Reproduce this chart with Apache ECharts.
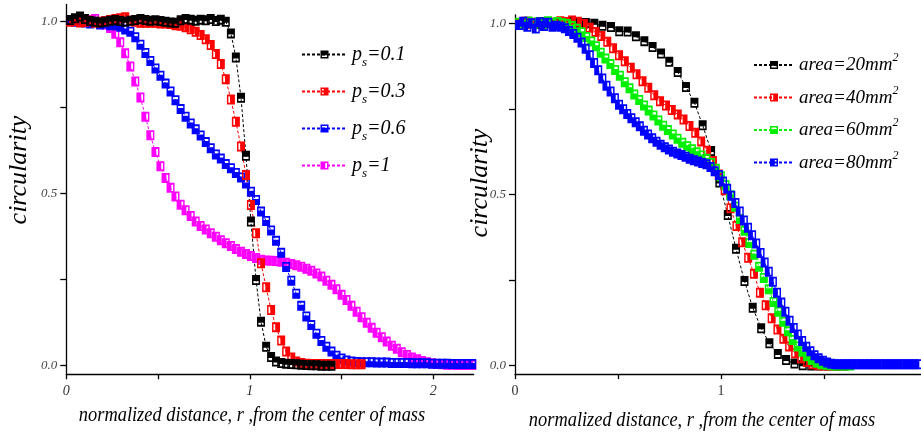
<!DOCTYPE html>
<html>
<head>
<meta charset="utf-8">
<script src="https://cdn.jsdelivr.net/npm/echarts@6/dist/echarts.min.js"></script>
<style>
html,body{margin:0;padding:0;background:#fff;}
#chart{width:921px;height:432px;}
</style>
</head>
<body>
<div id="chart"></div>
<script>
// ---- left panel: circularity profiles for several seeding probabilities p_s ----
const rLeft = [
  0.020,0.047,0.075,0.102,0.130,0.157,0.184,0.212,0.239,0.267,
  0.294,0.321,0.349,0.376,0.404,0.431,0.458,0.486,0.513,0.541,
  0.568,0.595,0.623,0.650,0.678,0.705,0.732,0.760,0.787,0.815,
  0.842,0.869,0.897,0.924,0.952,0.979,1.006,1.034,1.061,1.089,
  1.116,1.143,1.171,1.198,1.226,1.253,1.280,1.308,1.335,1.363,
  1.390,1.417,1.445,1.472,1.500,1.527,1.554,1.582,1.609,1.637,
  1.664,1.691,1.719,1.746,1.774,1.801,1.828,1.856,1.883,1.911,
  1.938,1.965,1.993,2.020,2.048,2.075,2.102,2.130,2.157,2.185,
  2.212
];
const circPs01 = [
  1.005,1.010,1.015,1.008,1.002,1.000,0.998,1.000,1.003,1.005,
  1.002,1.000,1.003,1.005,1.008,1.005,1.003,1.004,1.002,1.000,
  0.998,0.997,1.004,1.008,1.006,1.003,1.006,1.004,1.008,1.002,
  1.006,1.000,0.966,0.896,0.779,0.610,0.419,0.249,0.128,0.055,
  0.025,0.012,0.008,0.006,0.005,0.004,0.003,0.002,0.001,0.001,
  0.000,0.000,0.000
];
const circPs03 = [
  1.000,1.002,0.998,1.000,1.003,0.997,1.000,1.002,1.005,1.008,
  1.010,1.013,1.003,1.000,0.997,0.997,0.997,0.997,0.995,0.995,
  0.993,0.990,0.988,0.984,0.978,0.971,0.961,0.949,0.932,0.906,
  0.877,0.833,0.774,0.709,0.637,0.554,0.467,0.385,0.298,0.228,
  0.162,0.112,0.073,0.041,0.024,0.012,0.008,0.006,0.005,0.005,
  0.005,0.005,0.005,0.005,0.005,0.005,0.004,0.004,0.004
];
const circPs06 = [
  1.005,1.000,1.003,0.998,0.995,1.000,0.992,0.995,0.990,0.990,
  0.985,0.977,0.971,0.955,0.933,0.909,0.886,0.864,0.843,0.820,
  0.797,0.772,0.746,0.724,0.704,0.687,0.669,0.650,0.632,0.614,
  0.602,0.586,0.574,0.560,0.547,0.530,0.506,0.482,0.448,0.421,
  0.393,0.363,0.328,0.287,0.247,0.209,0.174,0.143,0.118,0.093,
  0.072,0.055,0.041,0.029,0.021,0.015,0.012,0.011,0.010,0.010,
  0.010,0.009,0.009,0.009,0.008,0.008,0.008,0.008,0.007,0.007,
  0.007,0.007,0.006,0.006,0.006,0.006,0.005,0.005,0.005,0.005,
  0.005
];
const circPs1 = [
  1.005,1.003,1.007,1.000,1.005,1.008,0.998,0.992,0.982,0.965,
  0.940,0.908,0.870,0.826,0.780,0.724,0.670,0.621,0.580,0.546,
  0.517,0.492,0.468,0.452,0.435,0.419,0.406,0.396,0.385,0.375,
  0.365,0.356,0.348,0.339,0.331,0.325,0.319,0.313,0.308,0.306,
  0.305,0.304,0.302,0.299,0.296,0.292,0.288,0.282,0.276,0.268,
  0.259,0.247,0.235,0.222,0.206,0.191,0.174,0.157,0.141,0.125,
  0.110,0.096,0.083,0.070,0.058,0.049,0.039,0.031,0.024,0.019,
  0.014,0.010,0.007,0.005,0.004,0.003,0.003,0.002,0.002,0.002,
  0.002
];

// ---- right panel: circularity profiles for several colony areas ----
const rArea20 = [
  0.020,0.061,0.101,0.142,0.182,0.223,0.263,0.304,0.344,0.385,
  0.425,0.466,0.506,0.547,0.587,0.628,0.668,0.709,0.749,0.790,
  0.830,0.871,0.911,0.952,0.992,1.033,1.073,1.114,1.154,1.195,
  1.235,1.276,1.316,1.357,1.397,1.438,1.478,1.519,1.559,1.600
];
const circArea20 = [
  1.000,1.005,0.998,1.003,1.000,1.002,1.004,1.002,1.001,0.999,
  0.993,0.989,0.977,0.976,0.962,0.948,0.931,0.912,0.888,0.858,
  0.814,0.768,0.702,0.627,0.535,0.440,0.341,0.247,0.169,0.109,
  0.065,0.034,0.016,0.006,0.001,0.000,0.000,0.000,0.000,0.000
];
const rArea40 = [
  0.020,0.049,0.077,0.106,0.134,0.163,0.191,0.220,0.248,0.277,
  0.305,0.334,0.362,0.391,0.419,0.448,0.476,0.505,0.533,0.562,
  0.590,0.619,0.647,0.676,0.704,0.733,0.761,0.790,0.818,0.847,
  0.875,0.904,0.932,0.961,0.989,1.018,1.046,1.075,1.103,1.132,
  1.160,1.189,1.217,1.246,1.274,1.303,1.331,1.360,1.388,1.417,
  1.445,1.474,1.502,1.531,1.559,1.588
];
const circArea40 = [
  1.000,1.005,0.998,1.002,0.996,1.003,1.000,1.006,1.004,1.008,
  1.005,0.998,0.987,0.975,0.963,0.946,0.927,0.907,0.889,0.870,
  0.851,0.831,0.812,0.790,0.772,0.760,0.747,0.734,0.719,0.700,
  0.680,0.655,0.628,0.598,0.558,0.512,0.460,0.408,0.360,0.315,
  0.268,0.213,0.176,0.138,0.105,0.078,0.056,0.036,0.021,0.010,
  0.004,0.001,0.000,0.000,0.000,0.000
];
const rArea60 = [
  0.020,0.043,0.067,0.090,0.113,0.137,0.160,0.183,0.206,0.230,
  0.253,0.276,0.300,0.323,0.346,0.370,0.393,0.416,0.439,0.463,
  0.486,0.509,0.533,0.556,0.579,0.603,0.626,0.649,0.672,0.696,
  0.719,0.742,0.766,0.789,0.812,0.836,0.859,0.882,0.905,0.929,
  0.952,0.975,0.999,1.022,1.045,1.069,1.092,1.115,1.138,1.162,
  1.185,1.208,1.232,1.255,1.278,1.302,1.325,1.348,1.372,1.395,
  1.418,1.441,1.465,1.488,1.511,1.535,1.558,1.581,1.605,1.628
];
const circArea60 = [
  1.002,0.995,1.005,0.998,1.003,0.995,1.006,1.000,1.004,1.000,
  0.998,0.992,0.984,0.974,0.960,0.947,0.933,0.914,0.897,0.881,
  0.864,0.847,0.828,0.810,0.792,0.776,0.760,0.745,0.731,0.716,
  0.701,0.688,0.675,0.663,0.651,0.641,0.632,0.623,0.614,0.604,
  0.592,0.575,0.553,0.527,0.498,0.464,0.428,0.394,0.358,0.324,
  0.289,0.256,0.223,0.186,0.157,0.128,0.100,0.075,0.056,0.040,
  0.027,0.016,0.008,0.004,0.002,0.001,0.000,0.000,0.000,0.000
];
const rArea80 = [
  0.020,0.040,0.060,0.081,0.101,0.121,0.141,0.161,0.182,0.202,
  0.222,0.242,0.262,0.283,0.303,0.323,0.343,0.363,0.384,0.404,
  0.424,0.444,0.464,0.485,0.505,0.525,0.545,0.565,0.586,0.606,
  0.626,0.646,0.666,0.687,0.707,0.727,0.747,0.767,0.788,0.808,
  0.828,0.848,0.868,0.889,0.909,0.929,0.949,0.969,0.990,1.010,
  1.030,1.050,1.070,1.091,1.111,1.131,1.151,1.171,1.192,1.212,
  1.232,1.252,1.272,1.293,1.313,1.333,1.353,1.373,1.394,1.414,
  1.434,1.454,1.474,1.495,1.515,1.535,1.555,1.575,1.596,1.616,
  1.636,1.656,1.676,1.697,1.717,1.737,1.757,1.777,1.798,1.818,
  1.838,1.858,1.878,1.899,1.919,1.939,1.959
];
const circArea80 = [
  0.995,1.005,0.990,1.000,0.985,1.003,0.992,1.002,0.990,0.993,
  0.990,0.986,0.978,0.969,0.958,0.944,0.926,0.907,0.884,0.863,
  0.839,0.818,0.801,0.781,0.762,0.749,0.735,0.723,0.711,0.699,
  0.686,0.675,0.664,0.654,0.645,0.638,0.631,0.625,0.620,0.615,
  0.610,0.604,0.600,0.596,0.592,0.588,0.580,0.568,0.557,0.538,
  0.517,0.496,0.475,0.450,0.424,0.403,0.381,0.357,0.329,0.301,
  0.274,0.245,0.213,0.184,0.157,0.131,0.110,0.091,0.072,0.055,
  0.042,0.030,0.021,0.014,0.009,0.005,0.004,0.004,0.004,0.004,
  0.004,0.004,0.004,0.004,0.004,0.004,0.004,0.004,0.004,0.004,
  0.004,0.004,0.004,0.004,0.004,0.004,0.004
];

// axis tick / label positions
const yTicks = [0, 0.25, 0.5, 0.75, 1];
const yLabels = [0, 0.5, 1];
const xTicksLeft = [0, 0.5, 1, 1.5, 2];
const xLabelsLeft = [0, 1, 2];
const xTicksRight = [0, 0.5, 1, 1.5];
const xLabelsRight = [0, 1];

const legendLeft = ['ps=0.1', 'ps=0.3', 'ps=0.6', 'ps=1'];
const legendRight = ['area=20mm2', 'area=40mm2', 'area=60mm2', 'area=80mm2'];

const SERIF = '"Liberation Serif", "Times New Roman", serif';
const X_TITLE = 'normalized distance, r ,from the center of mass';

// square markers: outer ring with most of the inside filled, leaving a white slit
const RING = 'M0 0 L10 0 L10 10 L0 10 Z M1.8 1.8 L1.8 8.2 L8.2 8.2 L8.2 1.8 Z';
const FILL = {
  top:    ' M1.8 1.8 L8.2 1.8 L8.2 6 L1.8 6 Z',
  bottom: ' M1.8 4 L8.2 4 L8.2 8.2 L1.8 8.2 Z',
  left:   ' M1.8 1.8 L6 1.8 L6 8.2 L1.8 8.2 Z',
  right:  ' M4 1.8 L8.2 1.8 L8.2 8.2 L4 8.2 Z'
};
const marker = side => 'path://' + RING + FILL[side];

const pair = (r, c) => c.map((v, i) => [r[i], v]);

function curve(name, r, c, color, side, idx) {
  return {
    name: name, type: 'line', xAxisIndex: idx, yAxisIndex: idx,
    data: pair(r, c),
    symbol: marker(side), symbolSize: [8, 10],
    color: color,
    lineStyle: { color: color, width: 1, type: [3, 2] },
    itemStyle: { color: color, borderWidth: 0 },
    emphasis: { disabled: true },
    animation: false
  };
}

function xAxisOf(idx, max, ticks, labels, italic) {
  return {
    gridIndex: idx, type: 'value', min: 0, max: max,
    axisLine: { onZero: false, lineStyle: { color: '#000', width: 1.3 } },
    axisTick: { customValues: ticks, length: 5, lineStyle: { color: '#000', width: 1.3 } },
    axisLabel: {
      customValues: labels, margin: 10, color: '#333',
      fontFamily: SERIF, fontSize: 14, fontStyle: italic ? 'italic' : 'normal',
      formatter: v => String(Math.round(v))
    },
    splitLine: { show: false }
  };
}
function yAxisOf(idx, max) {
  return {
    gridIndex: idx, type: 'value', min: -0.025, max: max,
    axisLine: { show: true, onZero: false, lineStyle: { color: '#000', width: 1.3 } },
    axisTick: { show: true, customValues: yTicks, length: 6, lineStyle: { color: '#000', width: 1.3 } },
    axisLabel: {
      customValues: yLabels, margin: 9, color: '#444',
      fontFamily: SERIF, fontSize: 13, fontStyle: 'italic',
      formatter: v => v.toFixed(1)
    },
    splitLine: { show: false }
  };
}

const richLeft = {
  m: { fontFamily: SERIF, fontStyle: 'italic', fontSize: 20, color: '#000', lineHeight: 26 },
  s: { fontFamily: SERIF, fontStyle: 'italic', fontSize: 13, color: '#000', lineHeight: 13, padding: [16, 0, 0, 0] }
};
const richRight = {
  m: { fontFamily: SERIF, fontStyle: 'italic', fontSize: 19, color: '#000', lineHeight: 26 },
  u: { fontFamily: SERIF, fontStyle: 'italic', fontSize: 12, color: '#000', lineHeight: 12, padding: [0, 0, 14, 0] }
};

const option = {
  backgroundColor: '#fff',
  animation: false,
  grid: [
    { left: 66.3, top: 4.5, width: 407.4, height: 369.8 },
    { left: 515, top: 14.8, width: 405.8, height: 359.3 }
  ],
  xAxis: [
    xAxisOf(0, 2.22, xTicksLeft, xLabelsLeft, true),
    xAxisOf(1, 1.97, xTicksRight, xLabelsRight, false)
  ],
  yAxis: [yAxisOf(0, 1.05), yAxisOf(1, 1.025)],
  legend: [
    {
      data: legendLeft, orient: 'vertical', left: 301, top: 40, padding: 0,
      itemWidth: 45, itemHeight: 10, itemGap: 8, selectedMode: false,
      formatter: n => '{m|p}{s|s}{m|' + n.slice(2) + '}',
      textStyle: { rich: richLeft }
    },
    {
      data: legendRight, orient: 'vertical', left: 753, top: 52, padding: 0,
      itemWidth: 40, itemHeight: 10, itemGap: 6.5, selectedMode: false,
      formatter: n => '{m|' + n.slice(0, -1) + '}{u|2}',
      textStyle: { rich: richRight }
    }
  ],
  graphic: [
    { type: 'text', x: 19, y: 170, rotation: Math.PI / 2,
      style: { text: 'circularity', fill: '#000', font: 'italic 26px ' + SERIF, align: 'center', verticalAlign: 'middle' } },
    { type: 'text', x: 480, y: 183, rotation: Math.PI / 2,
      style: { text: 'circularity', fill: '#000', font: 'italic 26px ' + SERIF, align: 'center', verticalAlign: 'middle' } },
    { type: 'text', x: 252, y: 416, scaleX: 0.92,
      style: { text: X_TITLE, fill: '#000', font: 'italic 20px ' + SERIF, align: 'center', verticalAlign: 'middle' } },
    { type: 'text', x: 702, y: 421, scaleX: 0.92,
      style: { text: X_TITLE, fill: '#000', font: 'italic 20px ' + SERIF, align: 'center', verticalAlign: 'middle' } }
  ],
  series: [
    curve('ps=1', rLeft, circPs1, '#ff00ff', 'left', 0),
    curve('ps=0.6', rLeft, circPs06, '#0000ff', 'bottom', 0),
    curve('ps=0.3', rLeft, circPs03, '#ff0000', 'right', 0),
    curve('ps=0.1', rLeft, circPs01, '#000000', 'top', 0),
    curve('area=20mm2', rArea20, circArea20, '#000000', 'top', 1),
    curve('area=40mm2', rArea40, circArea40, '#ff0000', 'right', 1),
    curve('area=60mm2', rArea60, circArea60, '#00f000', 'bottom', 1),
    curve('area=80mm2', rArea80, circArea80, '#0000ff', 'left', 1)
  ]
};

const chart = echarts.init(document.getElementById('chart'), null, { renderer: 'canvas' });
chart.setOption(option);
</script>
</body>
</html>
